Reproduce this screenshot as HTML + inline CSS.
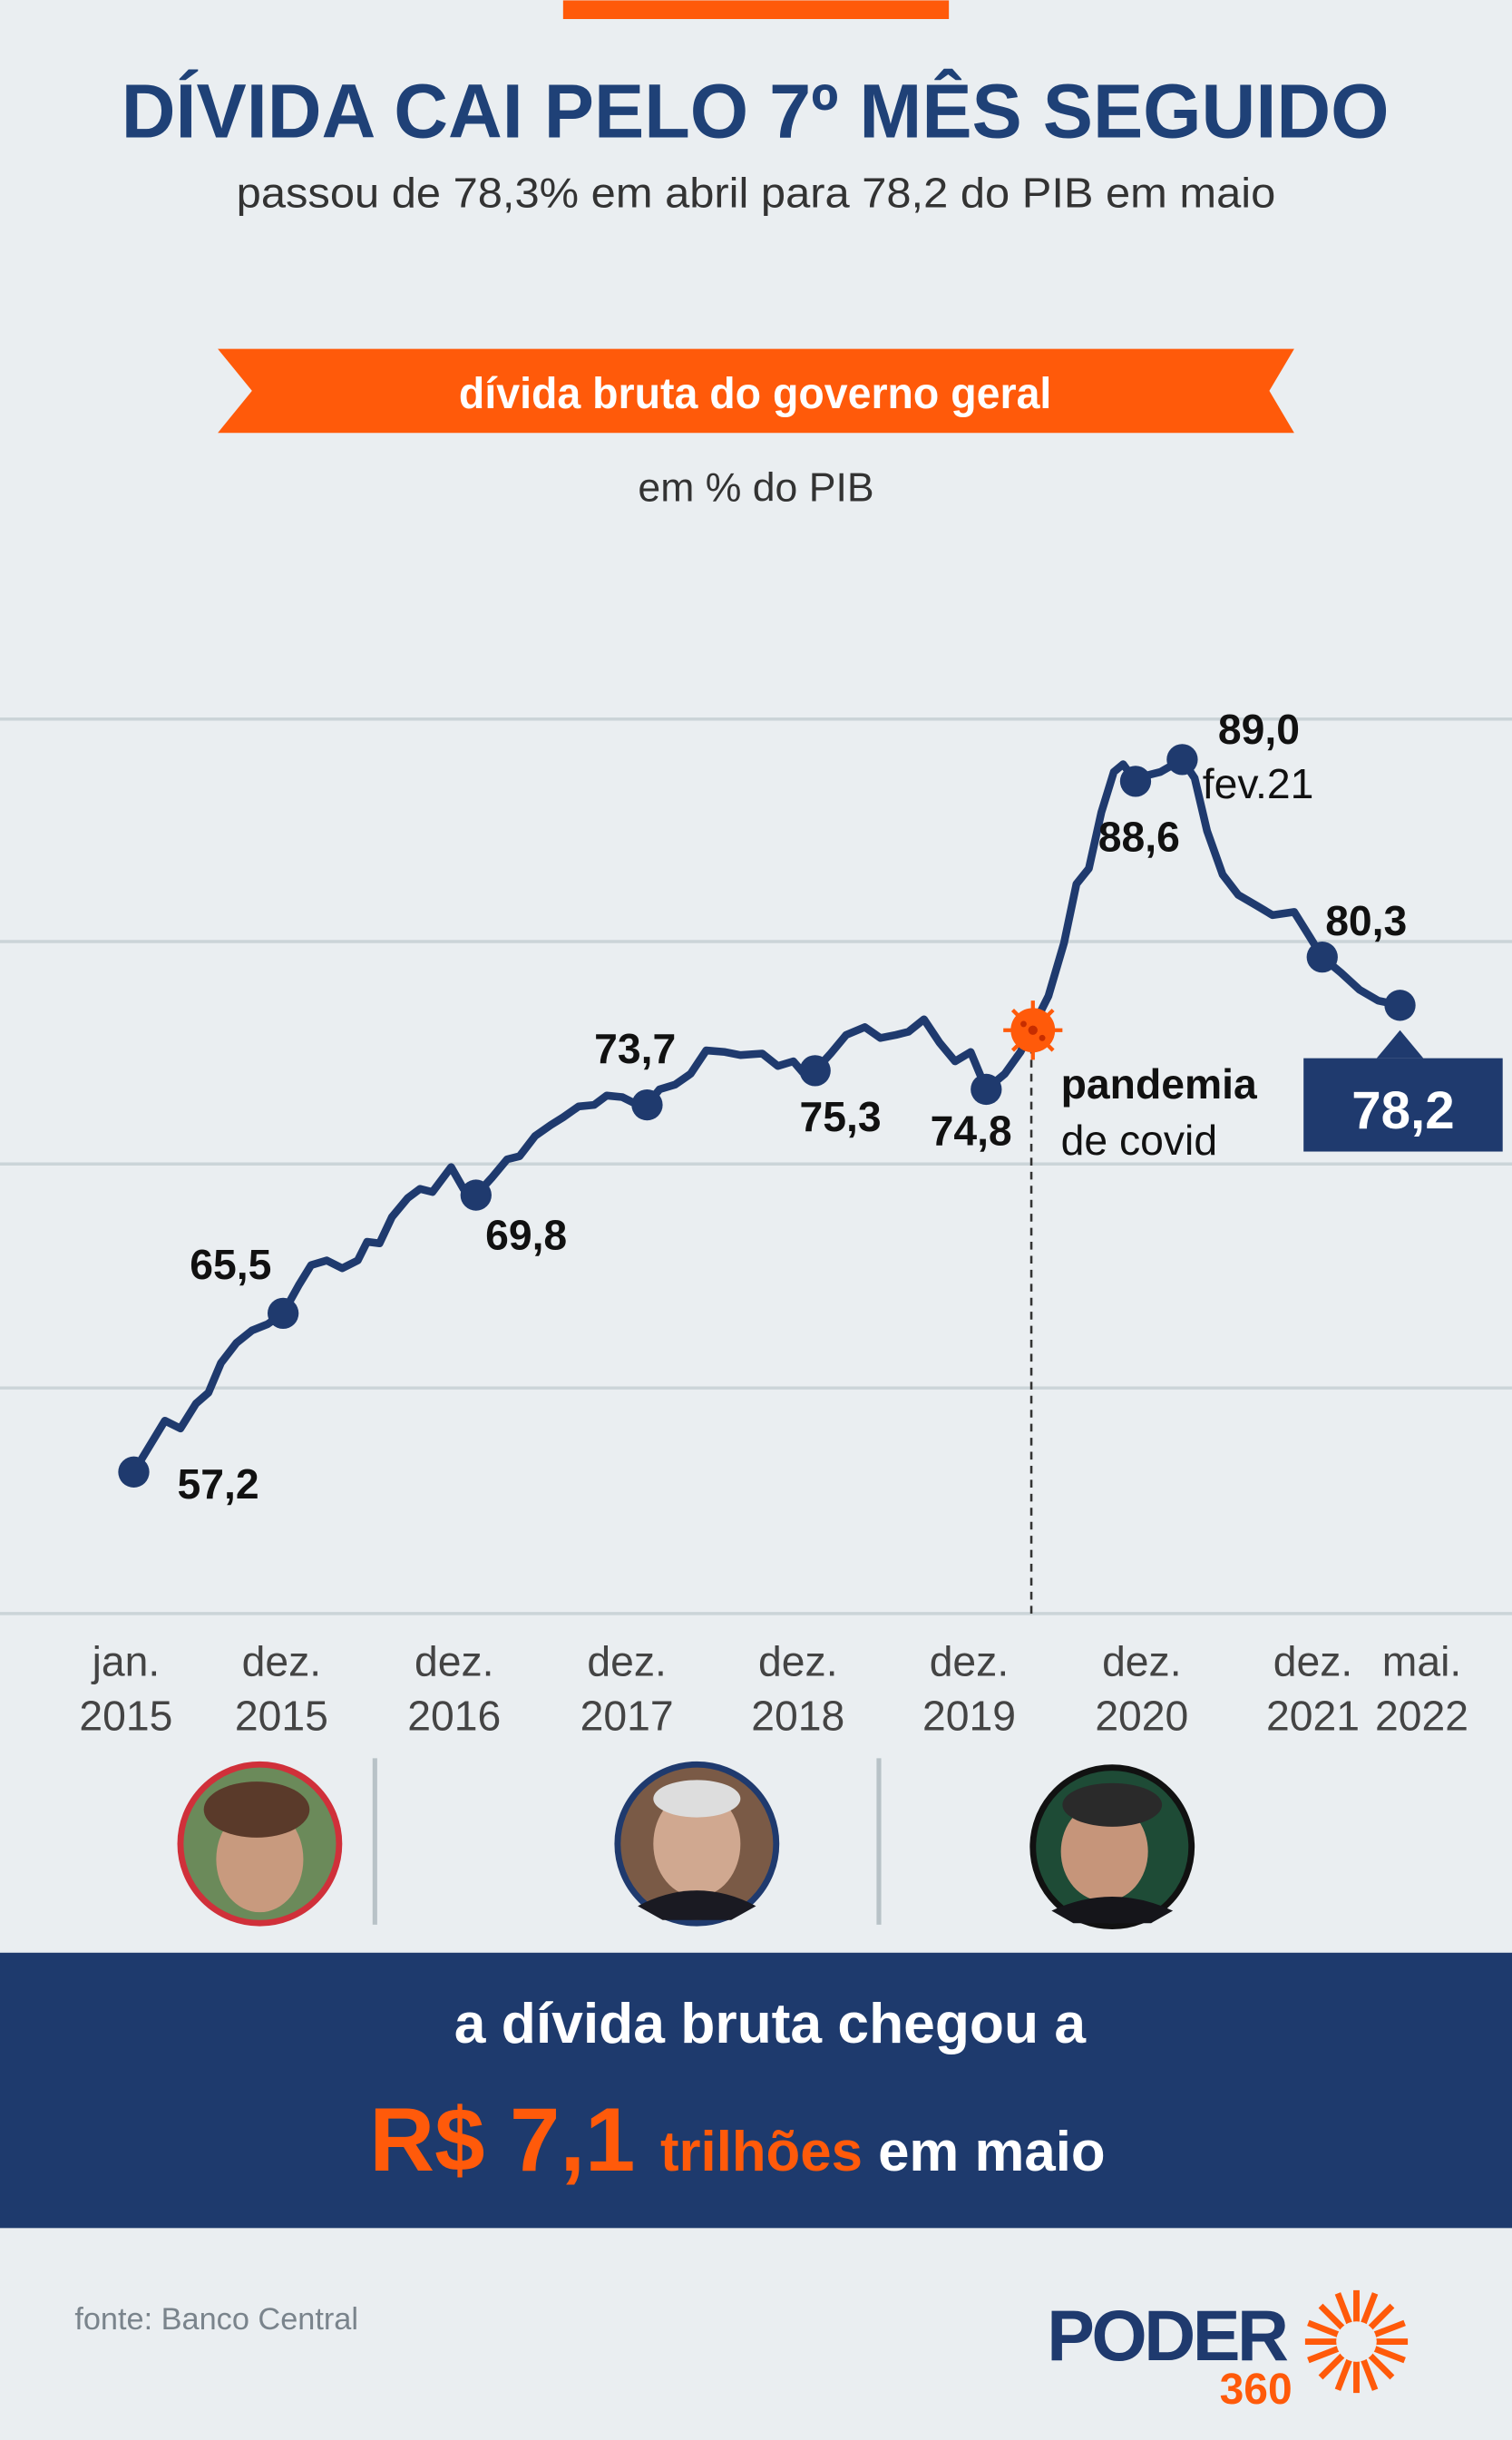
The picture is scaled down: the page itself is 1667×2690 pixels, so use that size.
<!DOCTYPE html>
<html><head><meta charset="utf-8"><style>
html,body{margin:0;padding:0;background:#eaeef1;}
svg{display:block;}
text{font-family:"Liberation Sans",sans-serif;}
</style></head><body>
<svg width="1667" height="2690" viewBox="0 0 972 1568" xmlns="http://www.w3.org/2000/svg">
<rect width="972" height="1568" fill="#eaeef1"/>
<rect x="362" y="0" width="248" height="12" fill="#ff5a0a"/>
<text x="78" y="88" font-size="49" font-weight="bold" fill="#1f4177" textLength="815" lengthAdjust="spacingAndGlyphs">DÍVIDA CAI PELO 7º MÊS SEGUIDO</text>
<text x="152" y="133" font-size="27" fill="#333" textLength="668" lengthAdjust="spacingAndGlyphs">passou de 78,3% em abril para 78,2 do PIB em maio</text>
<polygon points="140,224 832,224 816,251 832,278 140,278 162,251" fill="#ff5a0a"/>
<text x="295" y="262" font-size="28" font-weight="bold" fill="#fff" textLength="381" lengthAdjust="spacingAndGlyphs">dívida bruta do governo geral</text>
<text x="486" y="322" text-anchor="middle" font-size="26" fill="#333">em % do PIB</text>
<g stroke="#cbd4d8" stroke-width="2">
<line x1="0" y1="462" x2="972" y2="462"/><line x1="0" y1="605" x2="972" y2="605"/><line x1="0" y1="748" x2="972" y2="748"/><line x1="0" y1="892" x2="972" y2="892"/><line x1="0" y1="1037" x2="972" y2="1037"/>
</g>
<line x1="663" y1="672" x2="663" y2="1040" stroke="#333" stroke-width="1.5" stroke-dasharray="5,4"/>
<polyline fill="none" stroke="#1f3a6e" stroke-width="5" stroke-linejoin="round" points="86,946 106,913 116,918 126,902 134,895 142,876 152,863 162,855 172,851 182,844 192,826 200,813 210,810 220,815 230,810 236,798 244,799 252,782 262,770 270,764 278,766 290,750 298,764 306,768 316,757 326,745 334,743 344,730 354,723 362,718 372,711 382,710 390,704 400,705 410,710 416,710 424,700 434,697 444,690 454,675 466,676 476,678 490,677 500,685 510,682 516,689 524,688 534,677 544,665 556,660 566,667 576,665 584,663 594,655 604,670 614,682 624,676 634,700 646,690 656,676 664,660 674,640 684,606 692,568 700,558 708,522 716,496 722,491 730,502 738,498 746,496 760,488 768,500 776,534 786,562 796,575 808,582 818,588 832,586 842,602 850,615 862,625 874,636 886,643 900,646"/>
<g fill="#1f3a6e">
<circle cx="86" cy="946" r="10"/><circle cx="182" cy="844" r="10"/><circle cx="306" cy="768" r="10"/><circle cx="416" cy="710" r="10"/><circle cx="524" cy="688" r="10"/><circle cx="634" cy="700" r="10"/><circle cx="730" cy="502" r="10"/><circle cx="760" cy="488" r="10"/><circle cx="850" cy="615" r="10"/><circle cx="900" cy="646" r="10"/>
<polygon points="885,680 915,680 900,662"/>
<rect x="838" y="680" width="128" height="60"/>
</g>
<g fill="#ff5a0a" stroke="#ff5a0a" stroke-width="2.5">
<line x1="664" y1="643" x2="664" y2="681"/><line x1="645" y1="662" x2="683" y2="662"/><line x1="651" y1="649" x2="677" y2="675"/><line x1="651" y1="675" x2="677" y2="649"/>
<circle cx="664" cy="662" r="13"/>
</g>
<circle cx="664" cy="662" r="3" fill="#c62d00"/><circle cx="658" cy="658" r="2" fill="#c62d00"/><circle cx="670" cy="667" r="2" fill="#c62d00"/>
<g font-size="27" font-weight="bold" fill="#111">
<text x="114" y="963">57,2</text><text x="122" y="822">65,5</text><text x="312" y="803">69,8</text><text x="382" y="683">73,7</text><text x="514" y="727">75,3</text><text x="598" y="736">74,8</text><text x="706" y="547">88,6</text><text x="783" y="478">89,0</text><text x="852" y="601">80,3</text><text x="682" y="706">pandemia</text>
</g>
<text x="773" y="513" font-size="27" fill="#111">fev.21</text>
<text x="682" y="742" font-size="27" fill="#111">de covid</text>
<text x="902" y="725" text-anchor="middle" font-size="34" font-weight="bold" fill="#fff">78,2</text>
<g font-size="27" fill="#444" text-anchor="middle">
<text x="81" y="1077">jan.</text><text x="81" y="1112">2015</text>
<text x="181" y="1077">dez.</text><text x="181" y="1112">2015</text>
<text x="292" y="1077">dez.</text><text x="292" y="1112">2016</text>
<text x="403" y="1077">dez.</text><text x="403" y="1112">2017</text>
<text x="513" y="1077">dez.</text><text x="513" y="1112">2018</text>
<text x="623" y="1077">dez.</text><text x="623" y="1112">2019</text>
<text x="734" y="1077">dez.</text><text x="734" y="1112">2020</text>
<text x="844" y="1077">dez.</text><text x="844" y="1112">2021</text>
<text x="914" y="1077">mai.</text><text x="914" y="1112">2022</text>
</g>
<g stroke="#b8c2c7" stroke-width="3"><line x1="241" y1="1130" x2="241" y2="1237"/><line x1="565" y1="1130" x2="565" y2="1237"/></g>
<circle cx="167" cy="1185" r="51" fill="#6b8a5a" stroke="#d0303a" stroke-width="4"/>
<ellipse cx="167" cy="1195" rx="28" ry="34" fill="#c89a7e"/><ellipse cx="165" cy="1163" rx="34" ry="18" fill="#5a3a2a"/>
<circle cx="448" cy="1185" r="51" fill="#7a5a46" stroke="#1f3a6e" stroke-width="4"/>
<ellipse cx="448" cy="1185" rx="28" ry="34" fill="#d0a890"/><ellipse cx="448" cy="1156" rx="28" ry="12" fill="#ddd"/><path d="M410,1225 Q448,1205 486,1225 L470,1234 L426,1234Z" fill="#1a1a22"/>
<circle cx="715" cy="1187" r="51" fill="#1e4b36" stroke="#111" stroke-width="4"/>
<ellipse cx="710" cy="1190" rx="28" ry="32" fill="#c6957a"/><ellipse cx="715" cy="1160" rx="32" ry="14" fill="#2a2a2a"/><path d="M676,1228 Q715,1210 754,1228 L740,1236 L690,1236Z" fill="#15151a"/>
<rect x="0" y="1255" width="972" height="177" fill="#1e3a6d"/>
<text x="292" y="1313" font-size="36" font-weight="bold" fill="#fff" textLength="406" lengthAdjust="spacingAndGlyphs">a dívida bruta chegou a</text>
<text x="474" y="1395" text-anchor="middle" font-weight="bold"><tspan font-size="58" fill="#ff5a0a">R$ 7,1 </tspan><tspan font-size="36" fill="#ff5a0a">trilhões </tspan><tspan font-size="36" fill="#fff">em maio</tspan></text>
<text x="48" y="1497" font-size="20" fill="#7a848c">fonte: Banco Central</text>
<text x="673" y="1517" font-size="46" font-weight="bold" fill="#1f3a6e" letter-spacing="-2">PODER</text>
<text x="784" y="1545" font-size="28" font-weight="bold" fill="#ff5a0a">360</text>
<g stroke="#ff5a0a" stroke-width="4">
<line x1="872" y1="1505" x2="872" y2="1472"/><line x1="872" y1="1505" x2="895" y2="1482"/><line x1="872" y1="1505" x2="905" y2="1505"/><line x1="872" y1="1505" x2="895" y2="1528"/><line x1="872" y1="1505" x2="872" y2="1538"/><line x1="872" y1="1505" x2="849" y2="1528"/><line x1="872" y1="1505" x2="839" y2="1505"/><line x1="872" y1="1505" x2="849" y2="1482"/>
<line x1="872" y1="1505" x2="884" y2="1474"/><line x1="872" y1="1505" x2="903" y2="1493"/><line x1="872" y1="1505" x2="903" y2="1517"/><line x1="872" y1="1505" x2="884" y2="1536"/><line x1="872" y1="1505" x2="860" y2="1536"/><line x1="872" y1="1505" x2="841" y2="1517"/><line x1="872" y1="1505" x2="841" y2="1493"/><line x1="872" y1="1505" x2="860" y2="1474"/>
</g>
<circle cx="872" cy="1505" r="13" fill="#eaeef1"/>
</svg>
</body></html>
